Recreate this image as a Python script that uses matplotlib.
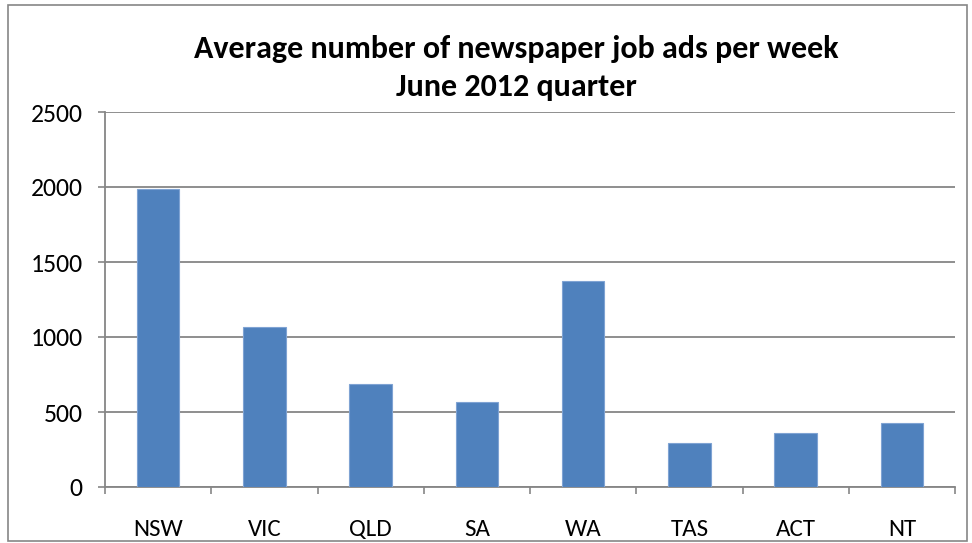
import matplotlib
matplotlib.use("Agg")
import matplotlib.pyplot as plt
from matplotlib.patches import Rectangle
import numpy as np

categories = ["NSW", "VIC", "QLD", "SA", "WA", "TAS", "ACT", "NT"]
values = [1990, 1070, 684, 565, 1376, 292, 358, 424]
yticks = [0, 500, 1000, 1500, 2000, 2500]
title = "Average number of newspaper job ads per week\nJune 2012 quarter"

plt.rcParams['font.family'] = ['Carlito', 'Liberation Sans Narrow', 'Lato', 'DejaVu Sans']

W, H = 972, 543
fig = plt.figure(figsize=(W / 100, H / 100), dpi=100)
fig.patch.set_facecolor("white")

# outer chart border
fig.patches.append(Rectangle((8 / W, 1 - 541 / H), (967 - 8) / W, (541 - 5) / H,
                             transform=fig.transFigure, fill=False,
                             edgecolor="#868686", linewidth=1.2))

ax = fig.add_axes([105 / W, 1 - 487 / H, (955 - 105) / W, (487 - 112) / H])
x = np.arange(len(categories))
ax.bar(x, values, width=0.4, color="#4F81BD", edgecolor="#7FA3D3", linewidth=0.8, zorder=3)

ax.set_xlim(-0.5, len(categories) - 0.5)
ax.set_ylim(0, 2500)
ax.set_yticks(yticks)
ax.set_yticklabels([str(v) for v in yticks])
ax.yaxis.grid(True, color="#868686", linewidth=1.3, zorder=0)
ax.set_axisbelow(True)

ax.set_xticks(x)
ax.set_xticklabels(categories)
ax.set_xticks(np.arange(-0.5, len(categories)), minor=True)
ax.tick_params(axis="x", which="major", length=0, pad=23, labelsize=18)
ax.tick_params(axis="x", which="minor", length=5, width=1.2, color="#868686")
ax.tick_params(axis="y", length=5, width=1.2, color="#868686", pad=11, labelsize=18.5)

for s in ["top", "right"]:
    ax.spines[s].set_visible(False)
for s in ["left", "bottom"]:
    ax.spines[s].set_color("#868686")
    ax.spines[s].set_linewidth(1.3)

fig.text(516 / W, 1 - 68 / H, title, ha="center", va="center", fontsize=23,
         fontweight="bold", linespacing=1.45)

fig.savefig("out.png", dpi=100)
